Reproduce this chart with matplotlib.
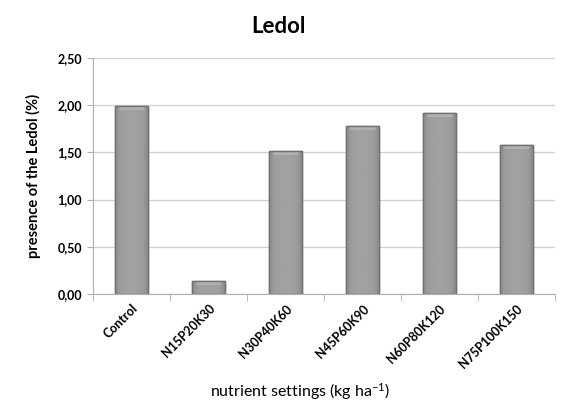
import matplotlib
matplotlib.use("Agg")
import matplotlib.pyplot as plt
import numpy as np

categories = ["Control", "N15P20K30", "N30P40K60", "N45P60K90", "N60P80K120", "N75P100K150"]
values = [1.99, 0.14, 1.51, 1.78, 1.92, 1.58]
yticks = [0.0, 0.5, 1.0, 1.5, 2.0, 2.5]
ytick_labels = ["0,00", "0,50", "1,00", "1,50", "2,00", "2,50"]

plt.rcParams['font.family'] = ['Lato', 'DejaVu Sans']
plt.rcParams['mathtext.default'] = 'regular'

fig = plt.figure(figsize=(5.64, 4.13), dpi=100)
ax = fig.add_axes([0.165, 0.288, 0.819, 0.572])

x = np.arange(len(categories))
width = 0.42
bars = ax.bar(x, values, width=width, color="#9b9b9b", edgecolor="#727272", linewidth=1.0, zorder=3)

# horizontal gradient inside each bar (darker edges, lighter centre)
t = np.linspace(-1, 1, 64)
grad = 0.54 + 0.09 * (1 - t ** 4)
grad = np.tile(grad, (2, 1))
for b in bars:
    x0, y0 = b.get_x(), b.get_y()
    w, h = b.get_width(), b.get_height()
    im = ax.imshow(grad, cmap="gray", vmin=0, vmax=1, aspect="auto",
                   extent=[x0, x0 + w, y0, y0 + h], zorder=3.5, interpolation="bilinear")
    im.set_clip_path(b)
    # subtle light bevel on top
    ax.plot([x0 + w * 0.1, x0 + w * 0.9], [y0 + h - 0.022, y0 + h - 0.022],
            color="#b2b2b2", linewidth=2.0, zorder=3.8, solid_capstyle="butt")
    ax.add_patch(plt.Rectangle((x0, y0), w, h, fill=False, edgecolor="#727272", linewidth=1.0, zorder=4))

ax.set_xlim(-0.5, len(categories) - 0.5)
ax.set_ylim(0, 2.5)
ax.set_yticks(yticks)
ax.set_yticklabels(ytick_labels, fontsize=9, fontweight="bold")
ax.yaxis.grid(True, color="#d2d2d2", linewidth=1.0, zorder=0)
ax.set_axisbelow(True)

ax.set_xticks(x)
ax.set_xticklabels(categories, rotation=45, ha="right", rotation_mode="anchor", fontsize=9, fontweight="bold")
ax.tick_params(axis="x", length=0, pad=6)
ax.set_xticks(np.arange(-0.5, len(categories), 1.0), minor=True)
ax.tick_params(axis="x", which="minor", length=5, color="#b0b0b0")
ax.tick_params(axis="y", length=4, color="#b0b0b0", pad=4)

for s in ["top", "right"]:
    ax.spines[s].set_visible(False)
ax.spines["left"].set_color("#b0b0b0")
ax.spines["bottom"].set_color("#b0b0b0")

ax.set_ylabel("presence of the Ledol (%)", fontsize=10.5, fontweight="bold", labelpad=12)
fig.text(0.532, 0.04, "nutrient settings (kg ha$^{-1}$)", ha="center", fontsize=11.5)
fig.text(0.493, 0.92, "Ledol", ha="center", fontsize=16, fontweight="bold")

fig.savefig("out.png", dpi=100)
